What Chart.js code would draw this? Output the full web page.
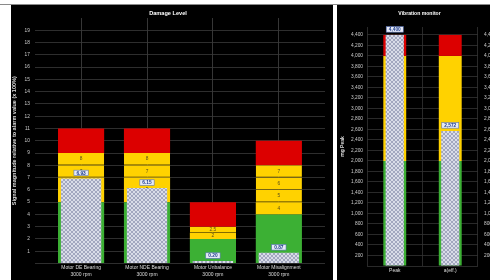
<!DOCTYPE html>
<html><head><meta charset="utf-8">
<script src="https://cdn.jsdelivr.net/npm/chart.js@4"></script>
<style>
html,body{margin:0;padding:0;width:490px;height:280px;overflow:hidden;background:#fff;}
#topline{position:absolute;left:0;top:4px;width:490px;height:1px;background:#8a8a8a;}
#left{position:absolute;left:11px;top:5px;width:322px;height:275px;background:#000;}
#sep{position:absolute;left:333px;top:5px;width:4px;height:275px;background:#fff;}
#right{position:absolute;left:337px;top:5px;width:166px;height:275px;background:#000;}
canvas{display:block}
</style></head><body>
<div id="topline"></div>
<div id="left"><canvas id="c1" width="322" height="275"></canvas></div>
<div id="sep"></div>
<div id="right"><canvas id="c2" width="166" height="275"></canvas></div>
<script>
// ---- data: Damage Level ----
const categories = ['Motor DE Bearing', 'Motor NDE Bearing', 'Motor Unbalance', 'Motor Misalignment'];
const speeds = ['3000 rpm', '3000 rpm', '3000 rpm', '3000 rpm'];
const greenTop = [5, 5, 2, 4];
const yellowBounds = [[5, 7, 8, 9], [5, 7, 8, 9], [2, 2.5, 3], [4, 5, 6, 7, 8]];
const redTop = [11, 11, 5, 10];
const measured = [6.93, 6.15, 0.20, 0.87];

// ---- data: Vibration monitor ----
const monitorCats = ['Peak', 'a(eff.)'];
const monitorGreen = [2000, 2000];
const monitorYellow = [4000, 4000];
const monitorRed = [4400, 4400];
const monitorValue = [4400, 2572];

const GREEN = '#3cb034', YELLOW = '#ffd200', RED = '#dc0000';
const FONT = "'Liberation Sans', Arial, sans-serif";
Chart.defaults.font.family = FONT;
Chart.defaults.animation = false;

function makePattern() {
  const c = document.createElement('canvas'); c.width = 4; c.height = 4;
  const g = c.getContext('2d');
  g.fillStyle = '#a2a7bf'; g.fillRect(0, 0, 4, 4);
  g.fillStyle = '#d9dce8'; g.fillRect(0, 0, 2, 2); g.fillRect(2, 2, 2, 2);
  return g.createPattern(c, 'repeat');
}
const pattern = makePattern();

const overlayPlugin = {
  id: 'overlay',
  afterDatasetDraw(chart, args) {
    const ds = chart.data.datasets[args.index];
    const ctx = chart.ctx;
    const els = args.meta.data;
    if (ds.segLabels) {
      ctx.save();
      ctx.font = '4.8px ' + FONT;
      ctx.fillStyle = '#5b4f1a';
      ctx.textAlign = 'center'; ctx.textBaseline = 'middle';
      els.forEach((el, i) => {
        const t = ds.segLabels[i];
        if (t == null) return;
        const p = el.getProps(['x', 'y', 'base'], true);
        ctx.fillText(t, p.x, (p.y + p.base) / 2);
      });
      ctx.restore();
    }
    if (ds.valueLabels) {
      ctx.save();
      ctx.font = 'bold 4.8px ' + FONT;
      ctx.textAlign = 'center'; ctx.textBaseline = 'middle';
      els.forEach((el, i) => {
        const t = ds.valueLabels[i];
        const p = el.getProps(['x', 'y'], true);
        const w = ctx.measureText(t).width + 5, h = 5.5;
        const cy = p.y - 5.5;
        ctx.fillStyle = '#e6eaf6';
        ctx.fillRect(p.x - w / 2, cy - h / 2, w, h);
        ctx.strokeStyle = '#5a74b8'; ctx.lineWidth = 0.6;
        ctx.strokeRect(p.x - w / 2, cy - h / 2, w, h);
        ctx.fillStyle = '#1d3c8c';
        ctx.fillText(t, p.x, cy + 0.3);
      });
      ctx.restore();
    }
  }
};

// ---- left chart ----
const barOpts = {grouped: false, categoryPercentage: 0.8, barPercentage: 0.875, borderSkipped: false};
const leftSets = [];
leftSets.push({
  label: 'Measured', data: measured.map((v, i) => ({x: i, y: [0, v]})),
  backgroundColor: pattern, grouped: false, categoryPercentage: 0.8, barPercentage: 0.765,
  borderWidth: 0, order: -1, valueLabels: measured.map(v => v.toFixed(2))
});
leftSets.push({label: 'Good', data: greenTop.map((v, i) => ({x: i, y: [0, v]})),
  backgroundColor: GREEN, ...barOpts, borderWidth: 0});
const maxSeg = Math.max(...yellowBounds.map(b => b.length - 1));
for (let k = 0; k < maxSeg; k++) {
  const data = [], labels = [];
  yellowBounds.forEach((b, i) => {
    if (k < b.length - 1) { data.push({x: i, y: [b[k], b[k + 1]]}); labels.push(String(b[k])); }
  });
  leftSets.push({label: 'Warning ' + (k + 1), data, backgroundColor: YELLOW, ...barOpts,
    borderColor: '#a08400', borderWidth: k === 0 ? 0 : {top: 0, bottom: 0.8, left: 0, right: 0},
    segLabels: labels});
}
leftSets.push({label: 'Alarm',
  data: redTop.map((v, i) => ({x: i, y: [yellowBounds[i][yellowBounds[i].length - 1], v]})),
  backgroundColor: RED, ...barOpts, borderWidth: 0});

new Chart(document.getElementById('c1'), {
  type: 'bar',
  data: {datasets: leftSets},
  plugins: [overlayPlugin],
  options: {
    responsive: false,
    layout: {padding: {left: 0, right: 8, top: 0, bottom: 1.5}},
    plugins: {
      legend: {display: false}, tooltip: {enabled: false},
      title: {display: true, text: 'Damage Level', color: '#ffffff',
        font: {size: 5.6, weight: 'bold'}, padding: {top: 5.4, bottom: 0.9}}
    },
    scales: {
      x: {
        type: 'linear', min: -0.70, max: 3.70, offset: false,
        grid: {offset: false, color: '#444', lineWidth: 0.8, drawTicks: false},
        border: {display: false},
        ticks: {stepSize: 1, includeBounds: false, autoSkip: false, maxRotation: 0, padding: 0.5,
          color: '#dddddd', font: {size: 5, lineHeight: 1.4},
          callback: v => (Number.isInteger(v) && v >= 0 && v < categories.length) ? [categories[v], speeds[v]] : ''}
      },
      y: {
        min: 0, max: 20,
        grid: {color: c => (c.tick && c.tick.value === 20) ? 'rgba(0,0,0,0)' : '#3a3a3a', lineWidth: 0.8, drawTicks: false},
        border: {display: false},
        ticks: {stepSize: 1, padding: 5, color: '#cccccc', font: {size: 4.8},
          callback: v => (v === 0 || v === 20) ? '' : String(v)},
        title: {display: true, text: 'Signal magnitude relative to alarm value (x 100%)',
          color: '#dddddd', font: {size: 5.5, weight: 'bold'}, padding: {top: 0, bottom: 2}}
      }
    }
  }
});

// ---- right chart ----
const rb = {grouped: false, categoryPercentage: 0.8, barPercentage: 0.516, borderWidth: 0};
const fmt = v => v.toLocaleString('en-US');
new Chart(document.getElementById('c2'), {
  type: 'bar',
  data: {
    labels: monitorCats,
    datasets: [
      {label: 'Value', data: monitorValue.map(v => [0, v]), backgroundColor: pattern,
        grouped: false, categoryPercentage: 0.8, barPercentage: 0.41, borderWidth: 0, order: -1,
        valueLabels: monitorValue.map(fmt)},
      {label: 'Good', data: monitorGreen.map(v => [0, v]), backgroundColor: GREEN, ...rb},
      {label: 'Warning', data: monitorYellow.map((v, i) => [monitorGreen[i], v]), backgroundColor: YELLOW, ...rb},
      {label: 'Alarm', data: monitorRed.map((v, i) => [monitorYellow[i], v]), backgroundColor: RED, ...rb}
    ]
  },
  plugins: [overlayPlugin],
  options: {
    responsive: false,
    layout: {padding: {left: 0, right: 1, top: 0, bottom: 4}},
    plugins: {
      legend: {display: false}, tooltip: {enabled: false},
      title: {display: true, text: 'Vibration monitor', color: '#ffffff',
        font: {size: 5.1, weight: 'bold'}, padding: {top: 5.9, bottom: 10}}
    },
    scales: {
      x: {
        grid: {offset: true, color: '#333', lineWidth: 0.8, drawTicks: false},
        border: {display: false},
        ticks: {padding: 2, color: '#dddddd', font: {size: 5}}
      },
      y: {
        min: 0, max: 4550,
        grid: {color: '#333', lineWidth: 0.8, drawTicks: false},
        border: {display: false},
        ticks: {stepSize: 200, includeBounds: false, padding: 4, color: '#cccccc', font: {size: 4.8},
          callback: v => v === 0 ? '' : fmt(v)},
        title: {display: true, text: 'mg Peak', color: '#dddddd',
          font: {size: 5, weight: 'bold'}, padding: {top: 3, bottom: 1}}
      },
      y2: {
        position: 'right', min: 0, max: 4550,
        grid: {drawOnChartArea: false, drawTicks: false},
        border: {display: false},
        ticks: {stepSize: 200, includeBounds: false, padding: 6, color: '#cccccc', font: {size: 4.8},
          callback: v => v === 0 ? '' : fmt(v)}
      }
    }
  }
});
</script>
</body></html>
